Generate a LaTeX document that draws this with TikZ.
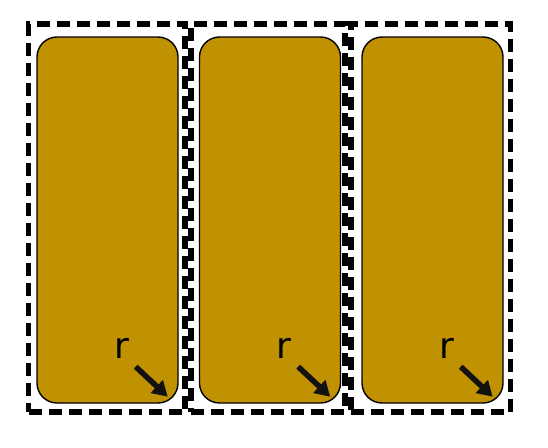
\documentclass[tikz,border=0pt]{standalone}
\usepackage{fontspec}
\setmainfont{DejaVu Sans}
\definecolor{goldfill}{RGB}{192,145,0}
\usepackage{tikz}
\usetikzlibrary{arrows.meta,positioning,calc}

\begin{document}
\begin{tikzpicture}[x=1pt,y=-1pt,
      slot/.style={draw=black,fill=goldfill,rounded corners=20pt,line width=1.4pt,
                minimum width=141pt,minimum height=366pt,inner sep=0pt},
      frame/.style={draw=black,line width=5.8pt,dash pattern=on 13pt off 7pt,
                minimum height=388pt,inner sep=0pt},
      a/.style={-{Triangle[length=15pt,width=17pt]},line width=5.5pt,color=black!93}]
      \useasboundingbox (0,0) rectangle (548,447);
      \foreach \i/\x/\fx/\fw in {1/107.5/106.8/156.5,2/270/268/154,3/432.5/430.8/159.5}{
        \node[slot] (c\i) at (\x,220) {};
        \node[frame,minimum width=\fw pt] (f\i) at (\fx,218.2) {};
        \node[font=\fontsize{36}{36}\selectfont] (r\i) at ($(c\i.south east)+(-57,-55)$) {r};
        \coordinate (t\i) at ($(c\i.south east)+(-11,-7)$);
        \draw[a] ($(r\i)+(14,18)$) -- (t\i);
      }
    \end{tikzpicture}
\end{document}
